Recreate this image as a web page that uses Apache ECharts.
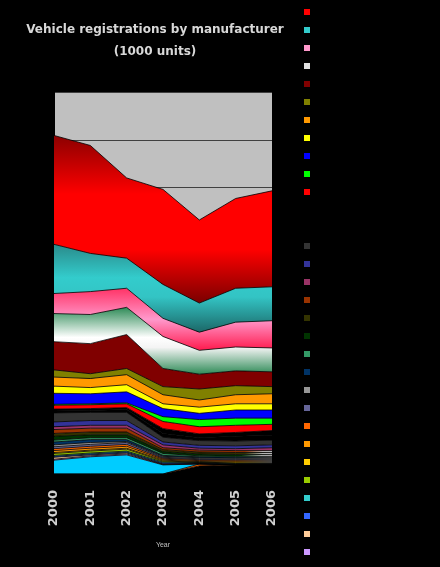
<!DOCTYPE html>
<html><head><meta charset="utf-8">
<script src="https://cdn.jsdelivr.net/npm/echarts@6/dist/echarts.min.js"></script>
<style>html,body{margin:0;padding:0;background:#000;}#c{width:440px;height:567px;}</style>
</head><body><div id="c"></div>
<script>
// ---------- DATA ----------
const years = ['2000','2001','2002','2003','2004','2005','2006'];
const titleLine1 = 'Vehicle registrations by manufacturer';
const titleLine2 = '(1000 units)';
const xName = 'Year';
// series from top of the stack to the bottom
const seriesNames = [
  'Series 1','Series 2','Series 3','Series 4','Series 5','Series 6','Series 7','Series 8',
  'Series 9','Series 10','Series 11','Series 12','Series 13','Series 14','Series 15','Series 16',
  'Series 17','Series 18','Series 19','Series 20','Series 21','Series 22','Series 23','Series 24',
  'Series 25','Series 26','Series 27','Series 28','Series 29','Series 30','Series 31','Series 32',
  'Series 33','Series 34'
];
const s01 = [228,226,168,199,174,188,201];
const s02 = [103,80,63,71,61,71,71];
const s03 = [42,48,40,38,38,52,57];
const s04 = [59,61,57,67,50,50,50];
const s05 = [59,63,71,38,31,31,31];
const s06 = [15,10,13,17,23,19,15];
const s07 = [19,19,21,19,15,19,21];
const s08 = [15,13,15,10,13,13,13];
const s09 = [23,21,23,17,13,17,17];
const s10 = [2,2,2,10,15,15,13];
const s11 = [8,8,8,15,15,15,13];
const s12 = [4,4,4,10,8,8,10];
const s13 = [4,4,6,8,6,10,10];
const s14 = [19,17,17,10,10,10,10];
const s15 = [10,10,10,6,6,6,6];
const s16 = [6,6,6,6,4,4,6];
const s17 = [8,8,8,4,4,4,4];
const s18 = [6,6,6,4,4,4,4];
const s19 = [8,6,6,4,4,4,4];
const s20 = [4,4,4,4,2,2,2];
const s21 = [6,6,4,2,2,2,2];
const s22 = [4,4,2,2,2,2,2];
const s23 = [4,4,4,2,2,2,2];
const s24 = [4,4,4,2,2,2,2];
const s25 = [4,4,4,2,2,2,2];
const s26 = [2,2,2,2,1,2,2];
const s27 = [4,4,4,2,1,1,1];
const s28 = [2,2,2,2,1,1,1];
const s29 = [2,2,2,2,1,1,1];
const s30 = [4,2,2,1,1,1,1];
const s31 = [2,2,2,1,0,0,0];
const s32 = [29,36,40,19,0,0,0];
const s33 = [0,0,0,0,4,0,0];
const s34 = [0,0,0,0,17,19,19];
const seriesValues = [s01,s02,s03,s04,s05,s06,s07,s08,s09,s10,s11,s12,s13,s14,s15,s16,s17,
  s18,s19,s20,s21,s22,s23,s24,s25,s26,s27,s28,s29,s30,s31,s32,s33,s34];
const legendCount = 31; // entries that fit in the window

// ---------- STYLE ----------
function grad(stops){
  return new echarts.graphic.LinearGradient(0,0,0,1, stops.map(s=>({offset:s[0],color:s[1]})));
}
const fills = [
  grad([[0,'#8c0000'],[0.35,'#ff0000'],[0.68,'#ff0000'],[1,'#7a0000']]),
  grad([[0,'#2a8a8a'],[0.38,'#33cccc'],[0.6,'#33c4c4'],[1,'#1c6868']]),
  grad([[0,'#ff3366'],[0.5,'#ff99cc'],[1,'#ff1a4d']]),
  grad([[0,'#2e8b57'],[0.45,'#ffffff'],[0.6,'#f4f4f4'],[1,'#2e8b57']]),
  '#800000','#808000','#ff9900','#ffff00','#0000ff','#00ff00','#ff0000','#000000','#000000',
  '#333333','#333399','#993366','#993300','#333300','#003300','#339966','#003366','#969696',
  '#666699','#ff6600','#ff9900','#ffcc00','#99cc00','#33cccc','#3366ff','#ffcc99','#cc99ff',
  '#00ccff','#ff6600','#000000'
];
const keyColors = ['#ff0000','#33cccc','#ff99cc','#e0e0e0'].concat(fills.slice(4));

const series = [];
for (let i = seriesNames.length - 1; i >= 0; i--) {
  series.push({
    name: seriesNames[i], type: 'line', stack: 'all', data: seriesValues[i],
    showSymbol: false, symbol: 'none', silent: true,
    lineStyle: {color: '#000', width: 0.8},
    itemStyle: {color: keyColors[i]},
    areaStyle: {color: fills[i], opacity: 1}
  });
}

const chart = echarts.init(document.getElementById('c'), null, {renderer: 'canvas'});
chart.setOption({
  backgroundColor: '#000',
  animation: false,
  title: {
    text: titleLine1 + '\n' + titleLine2,
    left: 150, top: 14, textAlign: 'center',
    textStyle: {color: '#d8d8d8', fontSize: 12, fontWeight: 'bold', lineHeight: 22, fontFamily: 'DejaVu Sans'}
  },
  legend: {
    orient: 'vertical', left: 299, top: 4, height: 620,
    icon: 'rect', itemWidth: 6, itemHeight: 6, itemGap: 12,
    selectedMode: false,
    formatter: () => '',
    textStyle: {fontSize: 9, lineHeight: 12},
    itemStyle: {borderWidth: 0},
    data: seriesNames.slice(0, legendCount)
  },
  grid: {left: 54, right: 168, top: 92, bottom: 93, show: true, backgroundColor: '#c0c0c0', borderWidth: 0},
  xAxis: {
    type: 'category', boundaryGap: false, data: years,
    axisLine: {lineStyle: {color: '#000'}}, axisTick: {show: false},
    axisLabel: {rotate: 90, color: '#d0d0d0', fontSize: 13, fontWeight: 'bold', margin: 16, fontFamily: 'DejaVu Sans'},
    name: xName, nameLocation: 'middle', nameGap: 68,
    nameTextStyle: {color: '#c0c0c0', fontSize: 7}
  },
  yAxis: {
    type: 'value', min: 0, max: 800, interval: 100,
    axisLabel: {show: false}, axisTick: {show: false},
    axisLine: {show: true, lineStyle: {color: '#000'}},
    splitLine: {lineStyle: {color: '#404040', width: 1}}
  },
  series: series
});
</script></body></html>
